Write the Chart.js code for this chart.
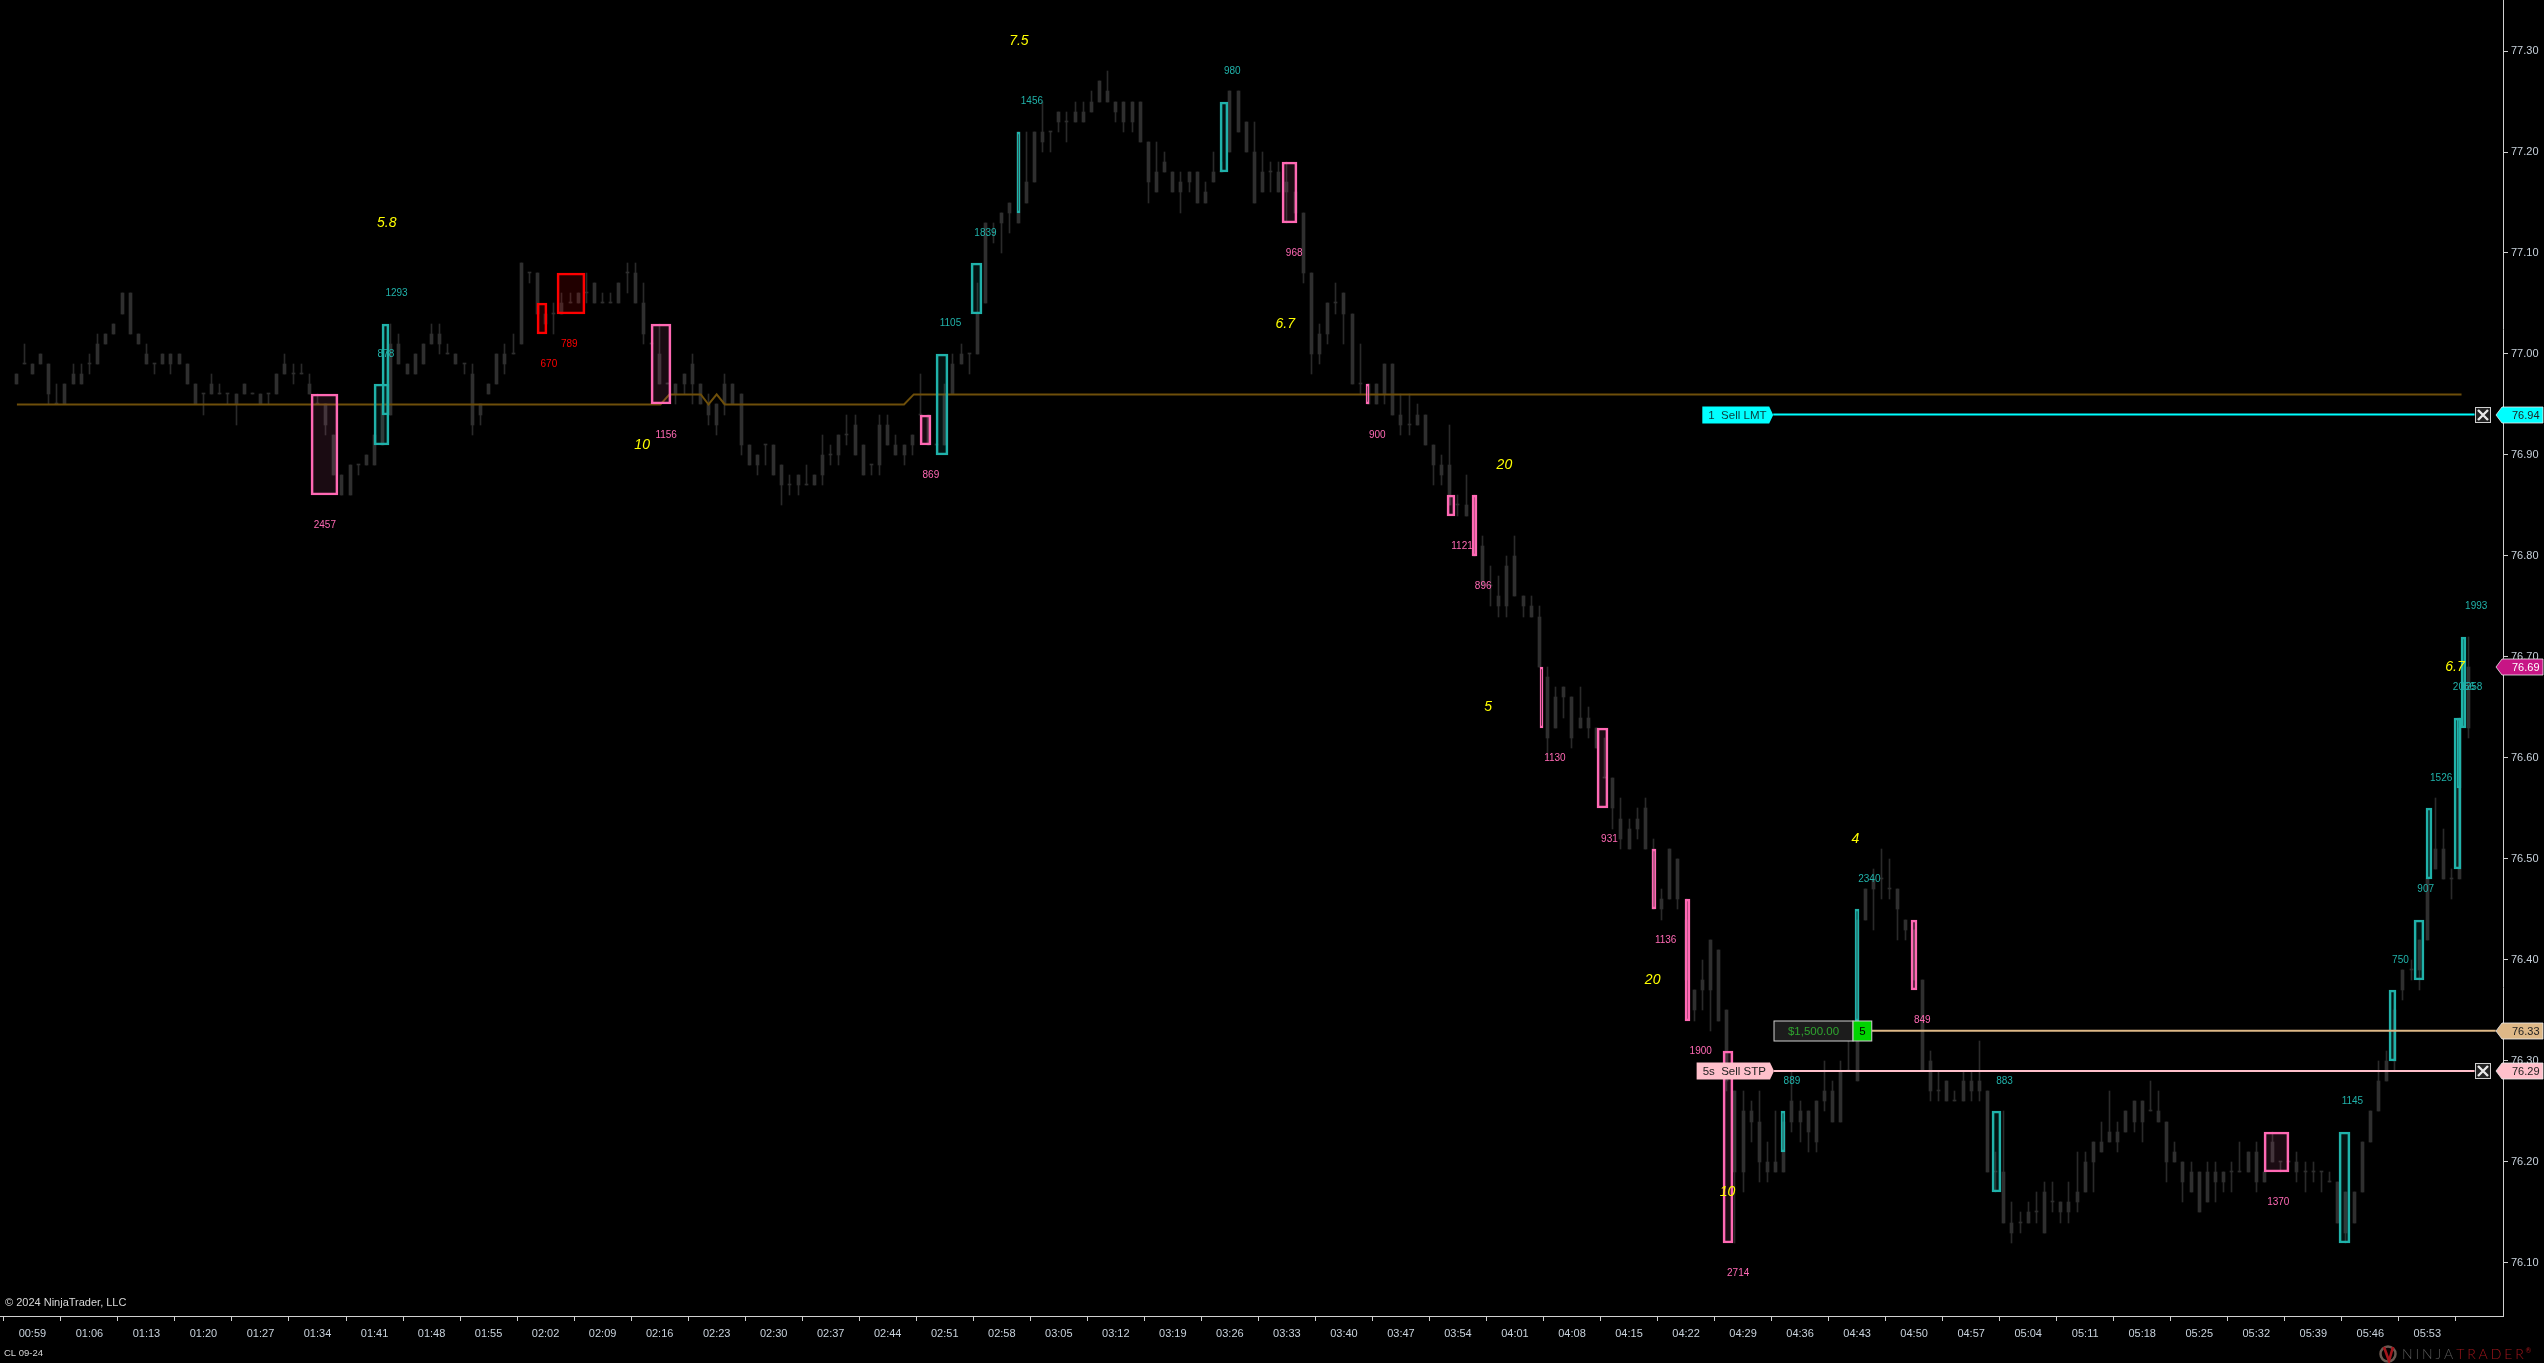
<!DOCTYPE html>
<html>
<head>
<meta charset="utf-8">
<style>html,body{margin:0;padding:0;background:#000;overflow:hidden}canvas{display:block}</style>
<script src="https://cdn.jsdelivr.net/npm/chart.js@4/dist/chart.umd.min.js"></script>
</head>
<body>
<canvas id="c" width="2544" height="1363"></canvas>
<script>
// All price arrays: cents above 76.00. Minute 0 = 00:59, first bar = minute -2.
const highCents = [98,101,99,100,99,97,97,99,99,100,
102,102,103,106,106,102,101,99,100,100,
100,99,97,96,98,97,96,96,97,96,
96,96,98,100,99,99,98,96,95,92,
88,89,89,90,92,95,103,102,99,100,
101,103,103,101,100,99,99,95,97,100,
101,102,109,108,108,104,105,106,106,106,
108,107,106,106,107,109,109,107,101,103,
97,97,98,100,97,96,95,98,97,96,
91,90,91,91,89,88,88,89,88,92,
91,92,94,94,91,89,94,94,92,91,
92,98,94,91,97,100,101,100,107,113,
113,114,115,122,122,122,125,122,124,124,
125,125,126,127,128,125,125,125,125,121,
121,120,118,118,118,118,117,120,119,126,
126,123,123,120,119,119,119,116,114,108,
103,105,107,106,104,101,97,97,99,99,
96,96,95,94,91,90,93,86,88,86,
82,79,78,80,82,76,76,75,69,67,
67,66,67,65,63,62,58,56,54,55,
56,52,47,51,50,46,37,40,42,41,
35,27,27,26,27,22,25,24,29,26,
25,26,30,28,30,32,44,47,49,51,
50,47,44,43,38,31,29,28,27,29,
29,32,27,21,25,16,15,16,17,18,
18,16,18,21,21,22,24,27,24,25,
26,26,28,27,24,22,20,20,19,20,
20,19,20,22,21,22,19,23,20,20,
21,20,20,19,19,18,17,17,22,25,
30,31,36,39,40,42,48,56,53,49,64,72];
const bodyTopCents = [98,99,99,100,99,95,97,98,98,99,
101,102,103,106,106,102,100,99,100,100,
100,99,97,96,97,96,96,96,97,96,
96,96,98,99,98,98,97,95,95,92,
88,89,89,90,92,95,101,101,99,100,
101,102,102,100,100,99,98,95,97,100,
100,100,109,108,108,104,104,105,105,106,
106,107,105,105,107,108,108,105,101,100,
97,97,98,99,97,95,95,97,97,96,
91,90,91,91,89,87,88,87,88,90,
90,92,92,93,91,89,93,93,91,91,
92,94,94,91,96,99,100,100,104,113,
112,114,115,122,117,122,122,122,124,123,
124,124,125,127,126,125,125,125,125,121,
118,119,118,117,118,118,116,118,118,126,
126,123,120,118,118,118,117,116,114,108,
102,105,105,106,104,97,97,97,99,99,
94,93,94,94,91,89,89,85,85,85,
81,77,76,79,80,76,75,74,68,66,
67,66,64,64,63,58,58,54,53,54,
55,51,46,51,50,44,37,38,42,41,
35,27,25,25,24,20,20,24,26,25,
25,26,27,27,29,29,44,47,48,48,
47,47,44,43,38,30,27,28,26,28,
28,28,27,19,19,14,14,15,15,17,
16,16,16,17,20,22,22,23,23,25,
26,26,25,25,24,21,20,19,19,19,
19,19,19,19,21,21,19,22,20,20,
20,19,19,19,18,18,17,17,22,25,
28,30,35,39,39,42,48,51,51,48,63,69];
const bodyBottomCents = [97,99,98,99,96,95,95,97,97,99,
99,101,102,104,102,101,99,99,99,99,
99,97,95,96,96,96,96,95,96,96,
95,96,96,98,98,98,96,95,93,88,
86,86,89,89,89,91,94,99,98,98,
99,101,101,100,99,99,93,94,96,97,
99,100,101,108,104,103,104,104,105,105,
106,105,105,105,105,108,105,102,101,97,
97,96,97,97,95,94,93,95,95,91,
89,89,91,88,87,87,87,87,87,88,
90,90,92,90,88,89,89,91,90,90,
91,94,91,91,91,96,99,100,100,105,
112,113,114,113,115,117,121,122,123,123,
123,123,124,125,125,124,123,123,121,117,
116,118,116,116,117,115,115,117,118,120,
122,120,115,116,118,116,116,114,108,100,
100,102,105,104,97,97,95,95,96,94,
93,93,93,91,89,88,85,85,84,80,
77,77,75,75,76,75,74,69,62,63,
66,62,63,63,61,58,55,52,51,53,
51,45,45,46,46,38,35,37,37,34,
28,19,19,24,20,19,19,19,24,24,
23,22,26,24,24,29,28,44,47,48,
47,45,43,38,29,27,27,26,26,26,
27,27,19,19,14,13,14,14,15,13,
16,15,15,16,17,20,21,22,22,23,
24,24,25,24,20,20,18,17,15,16,
18,18,19,19,19,18,18,20,20,20,
19,19,19,19,18,14,13,14,17,22,
25,28,30,37,39,39,42,49,48,48,48,63];
const lowCents = [97,99,98,99,95,95,95,97,97,98,
99,101,102,104,102,101,99,98,99,98,
99,97,95,94,96,96,95,93,96,96,
95,95,96,98,97,98,96,95,92,88,
86,86,88,89,89,91,94,99,98,98,
99,101,100,100,99,98,92,93,96,97,
98,100,101,107,104,103,102,104,105,105,
105,105,105,105,105,106,105,101,101,97,
97,95,96,95,95,93,92,94,95,90,
89,88,89,88,85,86,86,87,87,87,
89,89,91,90,88,88,88,91,90,89,
90,94,91,91,91,96,99,98,100,105,
111,110,112,113,115,117,120,120,122,121,
123,123,124,125,125,123,122,122,121,115,
116,118,116,114,116,115,115,117,118,120,
122,120,115,116,116,116,113,114,107,98,
99,101,104,101,97,96,95,95,95,94,
92,92,93,91,87,87,85,84,84,80,
77,75,74,74,76,74,74,69,60,63,
64,61,63,62,61,58,53,51,51,52,
51,45,44,46,45,38,34,35,33,34,
27,12,17,22,18,18,19,19,23,22,
21,21,25,24,24,29,28,44,43,46,
46,42,42,38,29,26,26,26,26,26,
26,26,19,17,14,12,13,14,14,13,
15,14,14,15,17,17,21,22,21,23,
23,22,25,24,18,20,16,17,15,16,
16,17,17,19,19,17,18,20,19,20,
18,17,18,17,18,14,12,14,17,22,
25,28,29,36,38,37,42,49,48,46,48,62];

const timeLabels = ['00:59','01:06','01:13','01:20','01:27','01:34','01:41','01:48','01:55','02:02','02:09','02:16','02:23','02:30','02:37','02:44','02:51','02:58','03:05','03:12','03:19','03:26','03:33','03:40','03:47','03:54','04:01','04:08','04:15','04:22','04:29','04:36','04:43','04:50','04:57','05:04','05:11','05:18','05:25','05:32','05:39','05:46','05:53'];
const priceTicks = [76.10,76.20,76.30,76.40,76.50,76.60,76.70,76.80,76.90,77.00,77.10,77.20,77.30];

// Volume-cluster boxes (minutes, cents)
const boxStart = [34.2,41.9,42.9,62.0,64.4,75.9,108.9,110.9,115.2,120.9,145.8,153.4,163.7,173.7,176.7,185.1,192.1,198.8,202.9,207.6,214.6,223.7,230.6,240.6,273.9,283.1,289.3,292.4,293.9,297.2,297.6,298.2];
const boxEnd   = [37.5,43.7,43.8,63.2,67.8,78.4,110.3,112.4,116.5,121.3,146.8,155.2,164.1,174.7,177.3,185.5,193.4,199.3,203.5,208.8,215.1,224.2,231.3,241.7,277.0,284.5,290.2,293.6,294.6,298.1,298.1,298.8];
const boxTop   = [96,97,103,105,108,103,94,100,109,122,125,119,97,86,86,69,63,51,46,31,25,45,44,25,23,23,37,44,55,64,64,72];
const boxBottom= [86,91,94,102,104,95,91,90,104,114,118,113,95,84,80,63,55,45,34,12,21,34,37,17,19,12,30,38,48,49,57,63];
const boxKind  = ['d','u','u','r','r','d','d','u','u','u','u','d','d','d','d','d','d','d','d','d','u','u','d','u','d','u','u','u','u','u','u','u'];

// Volume numbers
const volText  = ['2457','878','1293','670','789','1156','869','1105','1839','1456','980','968','900','1121','896','1130','931','1136','1900','2714','889','2340','849','883','1370','1145','750','907','1526','2056','1258','1993'];
const volTime  = [35.9,43.4,44.7,63.4,65.9,77.8,110.3,112.7,117.0,122.7,147.3,154.9,165.1,175.5,178.1,186.9,193.6,200.5,204.8,209.4,216.0,225.5,232.0,242.1,275.7,284.8,290.7,293.8,295.7,298.5,299.4,300.0];
const volCents = [83,100,106,99,101,92,88,103,112,125,128,110,92,81,77,60,52,42,31,9,28,48,34,28,16,26,40,47,58,67,67,75];
const volKind  = ['d','u','u','r','r','d','d','u','u','u','u','d','d','d','d','d','d','d','d','d','u','u','d','u','d','u','u','u','u','u','u','u'];

// Yellow swing numbers
const swingText  = ['5.8','7.5','6.7','10','20','5','20','10','4','6.7'];
const swingTime  = [43.5,121.1,153.8,74.85,180.7,178.7,198.9,208.1,223.8,297.4];
const swingCents = [113,131,103,91,89,65,38,17,52,69];

// Brown level line
const levelTime  = [-1.9,77.1,78.2,82.05,83,84,85,107,108.2,298.2];
const levelCents = [95,95,96,96,95,96,95,95,96,96];

// Order lines
const limitPrice = 76.94, stopPrice = 76.29, targetPrice = 76.33, lastPrice = 76.69;
const limitLineTime = [213.7,299.8];
const stopLineTime  = [213.8,299.8];
const targetLineTime= [225.8,302.4];

const price = c => 76 + c/100;
const UP='#20b2aa', DOWN='#ff69b4', RED='#ff0000';
const colorOf = k => k==='u'?UP:k==='d'?DOWN:RED;
const fillOf  = k => k==='u'?'rgba(32,178,170,0.10)':k==='d'?'rgba(255,105,180,0.10)':'rgba(255,0,0,0.13)';

const X_MIN=-3.977, X_MAX=303.29, Y_MIN=76.0475, Y_MAX=77.3505;
const PLOT_W=2503, PX_PER_MIN=PLOT_W/(X_MAX-X_MIN);
const CANDLE='#2f2f2f';

const wickData = highCents.map((h,i)=>({x:i-2,y:[price(lowCents[i]),price(h)]}));
const bodyData = bodyTopCents.map((t,i)=>({x:i-2,y:[price(bodyBottomCents[i]),price(t)]}));

const datasets = [
 {type:'bar',label:'wicks',data:wickData,barThickness:1,grouped:false,backgroundColor:'#2a2a2a',order:6,minBarLength:1},
 {type:'bar',label:'bodies',data:bodyData,barThickness:3,grouped:false,backgroundColor:CANDLE,order:5,minBarLength:1},
 {type:'line',label:'level',data:levelTime.map((t,i)=>({x:t,y:price(levelCents[i])})),borderColor:'#6e4f0a',borderWidth:2,pointRadius:0,tension:0,order:4},
];
boxStart.forEach((s,i)=>{
  datasets.push({type:'bar',label:'box'+i,grouped:false,order:3,
    data:[{x:(s+boxEnd[i])/2,y:[price(boxBottom[i]),price(boxTop[i])]}],
    barThickness:Math.max(3,(boxEnd[i]-s)*PX_PER_MIN),
    backgroundColor:fillOf(boxKind[i]),borderColor:colorOf(boxKind[i]),borderWidth:2,borderSkipped:false});
});
datasets.push(
 {type:'line',label:'limit',data:limitLineTime.map(t=>({x:t,y:limitPrice})),borderColor:'#00ffff',borderWidth:2,pointRadius:0,order:2},
 {type:'line',label:'target',data:targetLineTime.map(t=>({x:t,y:targetPrice})),borderColor:'#deb887',borderWidth:2,pointRadius:0,order:2},
 {type:'line',label:'stop',data:stopLineTime.map(t=>({x:t,y:stopPrice})),borderColor:'#ffc0cb',borderWidth:2,pointRadius:0,order:2}
);

const snapBars = {
  id:'snapBars',
  beforeDatasetsDraw(chart){
    chart.getSortedVisibleDatasetMetas().forEach(meta=>{
      if(meta.type!=='bar')return;
      meta.data.forEach(el=>{
        const w=Math.max(1,Math.round(el.width));
        const left=Math.round(el.x-w/2);
        el.width=w; el.x=left+w/2;
        let a=Math.round(el.y), b=Math.round(el.base);
        if(a===b) b=a+1;
        el.y=a; el.base=b; el.height=b-a;
      });
    });
  }
};

const background = {
  id:'background',
  beforeDraw(chart){
    const c=chart.ctx;c.save();c.fillStyle='#000';c.fillRect(0,0,chart.width,chart.height);c.restore();
  }
};

function rightTag(ctx,chart,p,fill,textColor,label){
  const y=Math.round(chart.scales.y.getPixelForValue(p));
  const R=chart.chartArea.right;
  ctx.beginPath();
  ctx.moveTo(R-7,y);ctx.lineTo(R-1,y-8);ctx.lineTo(R+40,y-8);ctx.lineTo(R+40,y+8);ctx.lineTo(R-1,y+8);ctx.closePath();
  ctx.fillStyle=fill;ctx.fill();
  ctx.strokeStyle='rgba(235,235,235,0.8)';ctx.lineWidth=1;ctx.stroke();
  ctx.fillStyle=textColor;ctx.font='11px "Liberation Sans"';ctx.textAlign='left';ctx.textBaseline='middle';
  ctx.fillText(label,R+9,y+0.5);
}
function orderTag(ctx,chart,t1,t2,p,fill,textColor,label){
  const x1=chart.scales.x.getPixelForValue(t1),x2=chart.scales.x.getPixelForValue(t2);
  const y=Math.round(chart.scales.y.getPixelForValue(p));
  ctx.beginPath();
  ctx.moveTo(x1,y-8.5);ctx.lineTo(x2-4,y-8.5);ctx.lineTo(x2,y);ctx.lineTo(x2-4,y+8.5);ctx.lineTo(x1,y+8.5);ctx.closePath();
  ctx.fillStyle=fill;ctx.fill();
  ctx.fillStyle=textColor;ctx.font='11.5px "Liberation Sans"';ctx.textAlign='left';ctx.textBaseline='middle';
  ctx.fillText(label,x1+6,y+0.5);
}
function closeBox(ctx,chart,t,p){
  const x=Math.round(chart.scales.x.getPixelForValue(t));
  const y=Math.round(chart.scales.y.getPixelForValue(p));
  ctx.fillStyle='#222';ctx.strokeStyle='#cfcfcf';ctx.lineWidth=1;
  ctx.fillRect(x-7.5,y-7.5,15,15);ctx.strokeRect(x-7.5,y-7.5,15,15);
  ctx.strokeStyle='#e8e8e8';ctx.lineWidth=2.4;ctx.beginPath();
  ctx.moveTo(x-5,y-5);ctx.lineTo(x+5,y+5);ctx.moveTo(x+5,y-5);ctx.lineTo(x-5,y+5);ctx.stroke();
}

const overlays = {
  id:'overlays',
  afterDatasetsDraw(chart){
    const ctx=chart.ctx,xs=chart.scales.x,ys=chart.scales.y;
    ctx.save();
    ctx.textAlign='center';ctx.textBaseline='middle';
    ctx.font='10px "Liberation Sans"';
    volText.forEach((s,i)=>{
      ctx.fillStyle=colorOf(volKind[i]);
      ctx.fillText(s,xs.getPixelForValue(volTime[i]),ys.getPixelForValue(price(volCents[i])));
    });
    ctx.font='italic 14px "Liberation Sans"';
    ctx.fillStyle='#ffff00';
    swingText.forEach((s,i)=>{
      ctx.fillText(s,xs.getPixelForValue(swingTime[i]),ys.getPixelForValue(price(swingCents[i])));
    });
    // order labels
    orderTag(ctx,chart,205.0,213.7,limitPrice,'#00ffff','#0b3b3b','1  Sell LMT');
    orderTag(ctx,chart,204.3,213.8,stopPrice,'#ffc0cb','#222','5s  Sell STP');
    closeBox(ctx,chart,300.8,limitPrice);
    closeBox(ctx,chart,300.8,stopPrice);
    // PnL box
    const bx1=xs.getPixelForValue(213.8),bx2=xs.getPixelForValue(223.5),bx3=xs.getPixelForValue(225.8);
    const by=Math.round(ys.getPixelForValue(targetPrice));
    ctx.fillStyle='#1c1c1c';ctx.fillRect(bx1,by-10,bx2-bx1,20);
    ctx.strokeStyle='#cfcfcf';ctx.lineWidth=1;ctx.strokeRect(bx1,by-10,bx2-bx1,20);
    ctx.fillStyle='#00d400';ctx.fillRect(bx2,by-10,bx3-bx2,20);
    ctx.strokeRect(bx2,by-10,bx3-bx2,20);
    ctx.font='11.5px "Liberation Sans"';ctx.textAlign='center';ctx.textBaseline='middle';
    ctx.fillStyle='#2fa52f';ctx.fillText('$1,500.00',(bx1+bx2)/2,by+0.5);
    ctx.fillStyle='#000';ctx.fillText('5',(bx2+bx3)/2,by+0.5);
    // right price tags
    rightTag(ctx,chart,limitPrice,'#00ffff','#222','76.94');
    rightTag(ctx,chart,lastPrice,'#c71585','#fff','76.69');
    rightTag(ctx,chart,targetPrice,'#deb887','#222','76.33');
    rightTag(ctx,chart,stopPrice,'#ffc0cb','#222','76.29');
    // footer
    ctx.textAlign='left';ctx.textBaseline='middle';
    ctx.fillStyle='#d8d8d8';ctx.font='11px "Liberation Sans"';
    ctx.fillText('© 2024 NinjaTrader, LLC',5,1303);
    ctx.font='9.5px "Liberation Sans"';
    ctx.fillText('CL 09-24',4,1353);
    // logo
    ctx.lineWidth=2.5;ctx.strokeStyle='#6a5a52';
    ctx.beginPath();ctx.arc(2388,1354,7.5,0,Math.PI*2);ctx.stroke();
    ctx.strokeStyle='#a3161c';ctx.lineWidth=2.6;
    ctx.beginPath();ctx.moveTo(2384,1347);ctx.lineTo(2389,1361);ctx.lineTo(2393,1347);ctx.stroke();
    ctx.font='300 14px "Lato"';
    if('letterSpacing' in ctx) ctx.letterSpacing='2.9px';
    ctx.fillStyle='#5a5a5a';ctx.fillText('NINJA',2402,1354.5);
    const w=ctx.measureText('NINJA').width;
    ctx.fillStyle='#a3161c';ctx.fillText('TRADER',2402+w,1354.5);
    const w2=ctx.measureText('TRADER').width;
    if('letterSpacing' in ctx) ctx.letterSpacing='0px';
    ctx.font='7px "Lato"';ctx.fillText('®',2402+w+w2-1,1351);
    ctx.restore();
  }
};

new Chart(document.getElementById('c').getContext('2d'),{
  type:'bar',
  data:{datasets},
  options:{
    responsive:false,animation:false,devicePixelRatio:1,
    layout:{padding:0},
    plugins:{legend:{display:false},tooltip:{enabled:false}},
    events:[],
    scales:{
      x:{type:'linear',min:X_MIN,max:X_MAX,offset:false,
        afterFit(s){s.height=47;s.paddingLeft=0;s.paddingRight=0;},
        afterBuildTicks(s){s.ticks=timeLabels.map((_,i)=>({value:i*7}));},
        grid:{display:true,drawOnChartArea:false,drawTicks:true,tickLength:5,color:'#cfcfcf'},
        border:{display:true,color:'#cfcfcf',width:1},
        ticks:{autoSkip:false,maxRotation:0,minRotation:0,padding:6,color:'#c8d2dc',font:{family:'"Liberation Sans"',size:11},
          callback(v){return timeLabels[Math.round(v/7)];}}
      },
      y:{type:'linear',position:'right',min:Y_MIN,max:Y_MAX,
        afterFit(s){s.width=41;s.paddingTop=0;s.paddingBottom=0;},
        afterBuildTicks(s){s.ticks=priceTicks.map(v=>({value:v}));},
        grid:{display:true,drawOnChartArea:false,drawTicks:true,tickLength:5,color:'#cfcfcf'},
        border:{display:true,color:'#cfcfcf',width:1},
        ticks:{autoSkip:false,padding:3,color:'#c8d2dc',font:{family:'"Liberation Sans"',size:11},
          callback(v){return v.toFixed(2);}}
      }
    }
  },
  plugins:[background,snapBars,overlays]
});
</script>
</body>
</html>
